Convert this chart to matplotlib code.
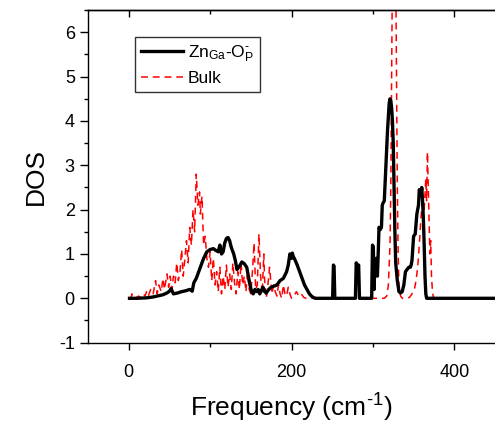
import numpy as np
import matplotlib
matplotlib.use("Agg")
import matplotlib.pyplot as plt
from matplotlib.ticker import MultipleLocator

plt.rcParams['font.family'] = ['Liberation Sans', 'DejaVu Sans']
plt.rcParams['mathtext.fontset'] = 'custom'
plt.rcParams['mathtext.rm'] = 'Liberation Sans'
plt.rcParams['mathtext.it'] = 'Liberation Sans:italic'
plt.rcParams['mathtext.default'] = 'regular'
plt.rcParams['axes.unicode_minus'] = False

# ZnGa-OP defect DOS
zn_freq = [1, 10, 22, 30, 35, 42, 47, 50, 52, 55,
           60, 65, 70, 75, 78, 80, 83, 86, 89, 92,
           96, 100, 104, 107, 110, 112, 114, 116, 118, 120,
           122, 124, 126, 129, 131, 133, 136, 139, 142, 145,
           147, 149, 151, 153, 155, 157, 159, 161, 163, 165,
           167, 169, 172, 175, 178, 182, 186, 190, 194, 196,
           198, 200, 201, 202, 204, 207, 210, 213, 216, 219,
           222, 225, 229, 240, 250.5, 251.5, 252.3, 253.2, 254, 270,
           278.5, 279.5, 280.5, 281.5, 282.5, 283.5, 297, 298.5, 299.5, 300.5,
           301.5, 302.5, 303.5, 304.5, 305.5, 306.5, 307.5, 309, 310.5, 311.5,
           312.5, 314, 315, 316, 318, 320, 321, 322, 323, 324,
           325, 326, 327, 328, 330, 332, 334, 336, 338, 340,
           342, 344, 346, 347, 348, 350, 352, 354, 356, 357,
           358, 359, 360, 361, 362, 363, 364, 365, 366, 380,
           400, 450]
zn_dos = [0.0, 0.0, 0.01, 0.03, 0.05, 0.08, 0.12, 0.16, 0.22, 0.1,
          0.12, 0.15, 0.17, 0.2, 0.16, 0.35, 0.45, 0.6, 0.75, 0.9,
          1.05, 1.1, 1.12, 1.08, 1.05, 1.2, 1.0, 1.05, 1.25, 1.35,
          1.37, 1.3, 1.15, 1.0, 0.85, 0.65, 0.72, 0.82, 0.78, 0.7,
          0.5, 0.3, 0.15, 0.1, 0.2, 0.15, 0.2, 0.1, 0.18, 0.25,
          0.15, 0.12, 0.2, 0.25, 0.27, 0.3, 0.4, 0.45, 0.6, 0.75,
          1.0, 0.9, 1.02, 0.95, 0.88, 0.75, 0.6, 0.45, 0.3, 0.2,
          0.1, 0.04, 0.0, 0.0, 0.0, 0.75, 0.72, 0.0, 0.0, 0.0,
          0.0, 0.8, 0.75, 0.7, 0.75, 0.0, 0.0, 0.0, 1.2, 1.15,
          0.2, 0.9, 0.6, 0.9, 0.5, 1.0, 1.6, 1.55, 1.6, 2.1,
          2.15, 2.2, 2.6, 3.0, 3.8, 4.4, 4.5, 4.45, 4.3, 4.0,
          3.5, 2.5, 1.5, 0.8, 0.4, 0.15, 0.12, 0.15, 0.3, 0.6,
          0.65, 0.7, 0.7, 0.75, 0.85, 1.4, 1.45, 1.9, 2.1, 2.45,
          2.4, 2.3, 2.5, 2.2, 1.8, 1.2, 0.5, 0.1, 0.0, 0.0,
          0.0, 0.0]

# Bulk DOS
bulk_freq = [1, 3, 4, 5, 8, 12, 15, 18, 20, 22,
             24, 27, 30, 33, 35, 37, 40, 42, 44, 47,
             49, 51, 53, 55, 57, 59, 61, 63, 65, 67,
             69, 71, 73, 75, 77, 79, 81, 83, 85, 87,
             88, 90, 92, 94, 96, 98, 100, 102, 104, 106,
             108, 110, 112, 114, 116, 118, 120, 122, 124, 126,
             128, 130, 132, 134, 136, 138, 140, 142, 144, 146,
             148, 150, 152, 154, 156, 158, 160, 162, 164, 166,
             167, 169, 171, 173, 176, 178, 180, 182, 184, 186,
             188, 190, 192, 194, 196, 198, 200, 203, 206, 209,
             212, 215, 218, 230, 300, 314, 317, 319, 321, 322,
             323, 324, 326, 328, 329, 330, 331, 332, 334, 336,
             340, 345, 348, 351, 353, 355, 357, 359, 361, 363,
             365, 366, 367, 368, 369, 370, 371, 372, 373, 374,
             375, 377, 400, 450]
bulk_dos = [0.0, 0.02, 0.1, 0.02, 0.0, 0.05, 0.02, 0.1, 0.05, 0.15,
            0.05, 0.2, 0.1, 0.4, 0.1, 0.3, 0.15, 0.45, 0.2, 0.55,
            0.25, 0.5, 0.2, 0.5, 0.35, 0.8, 0.4, 0.6, 1.1, 0.5,
            0.9, 1.3, 0.8, 1.6, 1.2, 2.0, 1.5, 2.8, 2.1, 2.4,
            1.9, 2.3, 1.2, 1.4, 0.9, 0.7, 1.05, 0.4, 0.9, 0.3,
            0.6, 0.15, 0.7, 0.1, 0.5, 0.2, 0.75, 0.25, 0.55, 0.2,
            0.8, 0.35, 0.1, 0.6, 0.2, 0.8, 0.3, 0.5, 0.15, 0.6,
            0.2, 0.1, 0.6, 1.25, 0.2, 0.3, 1.45, 0.5, 0.1, 1.0,
            0.4, 0.0, 0.3, 0.7, 0.1, 0.3, 0.15, 0.05, 0.3, 0.1,
            0.0, 0.3, 0.1, 0.05, 0.25, 0.1, 0.0, 0.05, 0.15, 0.05,
            0.1, 0.02, 0.0, 0.0, 0.0, 0.0, 0.05, 0.3, 1.2, 2.5,
            5.0, 7.5, 9.0, 7.5, 5.0, 2.5, 1.0, 0.3, 0.05, 0.0,
            0.0, 0.02, 0.1, 0.2, 0.4, 0.7, 1.2, 1.8, 2.3, 2.0,
            2.7, 2.2, 3.3, 2.5, 1.8, 1.0, 1.3, 0.5, 0.2, 0.05,
            0.0, 0.0, 0.0, 0.0]

fig = plt.figure(figsize=(4.95, 4.23), dpi=100)
ax = fig.add_axes([0.1778, 0.190, 0.8222, 0.786])

ax.plot(bulk_freq, bulk_dos, color='#ff0000', lw=1.1, dashes=(4.5, 3.2), label='Bulk', zorder=2)
ax.plot(zn_freq, zn_dos, color='black', lw=2.4, label='Zn$_{Ga}$-O$_P^{\u2010}$', zorder=3)

handles, labels = ax.get_legend_handles_labels()
leg = ax.legend(handles[::-1], labels[::-1], loc='upper left', bbox_to_anchor=(0.115, 0.919),
                fontsize=12.5, frameon=True, fancybox=False, edgecolor='black',
                handlelength=2.4, borderpad=0.35, labelspacing=0.42, handletextpad=0.3,
                borderaxespad=0)
leg.get_frame().set_linewidth(1.0)

ax.set_xlim(-50, 450)
ax.set_ylim(-1, 6.5)
ax.xaxis.set_major_locator(MultipleLocator(200))
ax.xaxis.set_minor_locator(MultipleLocator(100))
ax.yaxis.set_major_locator(MultipleLocator(1))
ax.yaxis.set_minor_locator(MultipleLocator(0.5))
ax.tick_params(axis='y', which='major', direction='out', length=6, width=1, labelsize=13, left=True, right=False)
ax.tick_params(axis='y', which='minor', direction='out', length=3, width=1, left=True, right=False)
ax.tick_params(axis='x', which='major', direction='out', length=5, width=1, labelsize=13, top=False, pad=10.5)
ax.tick_params(axis='x', which='minor', direction='out', length=3, width=1, top=False)
ax.spines['right'].set_visible(False)
for s in ['left', 'bottom', 'top']:
    ax.spines[s].set_linewidth(1.0)

secx = ax.secondary_xaxis('top')
secx.xaxis.set_major_locator(MultipleLocator(200))
secx.xaxis.set_minor_locator(MultipleLocator(100))
secx.tick_params(axis='x', which='major', direction='in', length=5, width=1, labeltop=False)
secx.tick_params(axis='x', which='minor', direction='in', length=3, width=1)
secx.spines['top'].set_linewidth(1.0)

ax.set_xlabel('Frequency (cm$^{\u20101}$)', fontsize=19, labelpad=8)
ax.set_ylabel('DOS', fontsize=19, labelpad=8)

fig.savefig('out.png', dpi=100)
